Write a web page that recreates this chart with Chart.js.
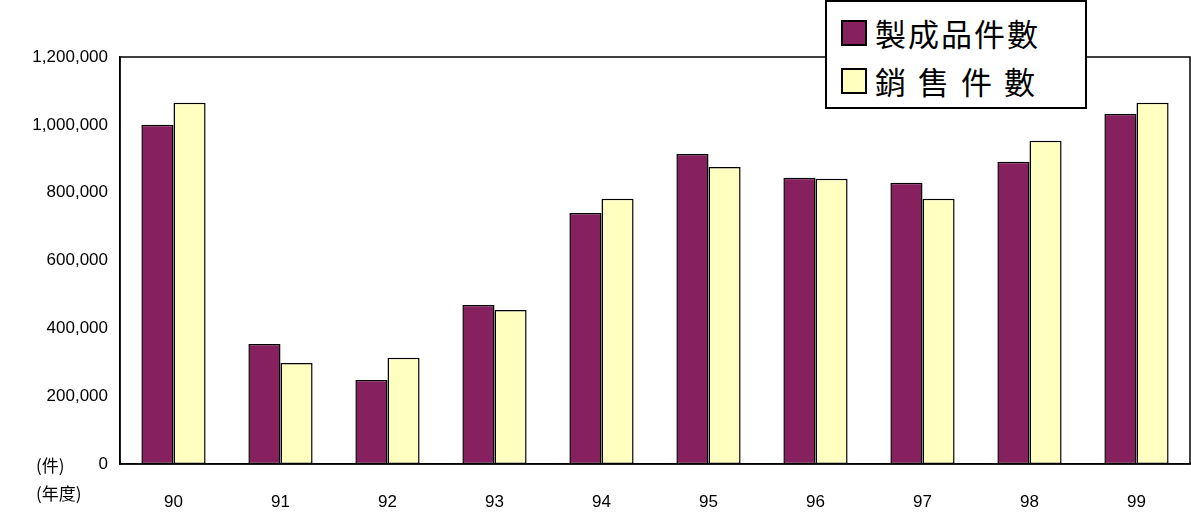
<!DOCTYPE html>
<html><head><meta charset="utf-8">
<script src="https://cdn.jsdelivr.net/npm/chart.js@4/dist/chart.umd.min.js"></script>
<style>
body{margin:0;background:#fff;font-family:"Liberation Sans",Arial,sans-serif}
#wrap{position:relative;width:1191px;height:518px}
#legend{position:absolute;left:825px;top:0;width:258px;height:105px;border:2px solid #000;background:#fff;font-family:"Noto Sans CJK TC";font-size:31px}
.row{position:absolute;left:14px;display:flex;align-items:center;white-space:nowrap}
.sw{width:22px;height:22px;border:2px solid #000;margin-right:8px;flex:none}
.lbl{position:absolute;font-family:"Noto Sans CJK TC";font-size:17px}
</style></head><body>
<div id="wrap">
<canvas id="c" width="1191" height="518"></canvas>
<div class="lbl" style="left:36px;top:452px">(件)</div>
<div class="lbl" style="left:36px;top:480px">(年度)</div>
<div id="legend">
 <div class="row" style="top:8px"><div class="sw" style="background:#86205E"></div><span style="letter-spacing:2px">製成品件數</span></div>
 <div class="row" style="top:56px"><div class="sw" style="background:#FFFFC0"></div><span style="letter-spacing:12px">銷售件數</span></div>
</div>
</div>
<script>
const years = ['90','91','92','93','94','95','96','97','98','99'];
const madeCounts = [1000000, 354000, 248000, 469000, 740000, 914000, 844000, 829000, 891000, 1032000];
const soldCounts = [1065000, 298000, 313000, 454000, 782000, 876000, 841000, 782000, 953000, 1065000];

const frame = {
  id: 'frame',
  afterDraw(chart) {
    const a = chart.chartArea, g = chart.ctx;
    g.save(); g.strokeStyle = '#000'; g.lineWidth = 1.5;
    g.strokeRect(a.left, a.top, a.right - a.left, a.bottom - a.top);
    g.restore();
  }
};

new Chart(document.getElementById('c'), {
  type: 'bar',
  data: {
    labels: years,
    datasets: [
      { data: madeCounts, backgroundColor: '#86205E', borderColor: '#000', borderWidth: 1.5, borderSkipped: false },
      { data: soldCounts, backgroundColor: '#FFFFC0', borderColor: '#000', borderWidth: 1.5, borderSkipped: false }
    ]
  },
  options: {
    responsive: false, animation: false,
    layout: { padding: { top: 57, right: 1, left: 0, bottom: 0 } },
    plugins: { legend: { display: false }, tooltip: { enabled: false } },
    datasets: { bar: { barPercentage: 1, categoryPercentage: 0.6 } },
    scales: {
      x: {
        grid: { display: false, drawTicks: false },
        border: { color: '#000', width: 1.5 },
        ticks: { color: '#000', font: { family: 'Liberation Sans', size: 17 }, padding: 28 },
        afterFit(s) { s.height = 54; }
      },
      y: {
        min: 0, max: 1200000,
        grid: { display: false, drawTicks: true, tickLength: 6, tickColor: '#000' },
        border: { color: '#000', width: 1.5 },
        ticks: { stepSize: 200000, color: '#000', font: { family: 'Liberation Sans', size: 17 }, padding: 6,
          callback: v => v.toLocaleString('en-US') },
        afterFit(s) { s.width = 120; }
      }
    }
  },
  plugins: [frame]
});
</script>
</body></html>
